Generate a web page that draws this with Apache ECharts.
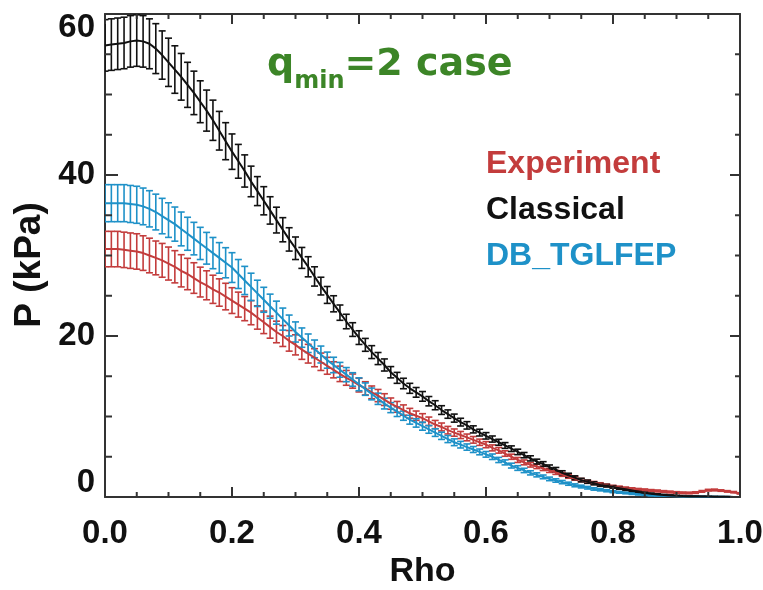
<!DOCTYPE html>
<html>
<head>
<meta charset="utf-8">
<script src="https://cdn.jsdelivr.net/npm/echarts@6/dist/echarts.min.js"></script>
<style>
html,body{margin:0;padding:0;background:#fff;}
#chart{width:763px;height:590px;}
</style>
</head>
<body>
<div id="chart"></div>
<script>
// ---------------- data ----------------
const rho = [
 0.00,0.01,0.02,0.03,0.04,0.05,0.06,0.07,0.08,0.09,
 0.10,0.11,0.12,0.13,0.14,0.15,0.16,0.17,0.18,0.19,
 0.20,0.21,0.22,0.23,0.24,0.25,0.26,0.27,0.28,0.29,
 0.30,0.31,0.32,0.33,0.34,0.35,0.36,0.37,0.38,0.39,
 0.40,0.41,0.42,0.43,0.44,0.45,0.46,0.47,0.48,0.49,
 0.50,0.51,0.52,0.53,0.54,0.55,0.56,0.57,0.58,0.59,
 0.60,0.61,0.62,0.63,0.64,0.65,0.66,0.67,0.68,0.69,
 0.70,0.71,0.72,0.73,0.74,0.75,0.76,0.77,0.78,0.79,
 0.80,0.81,0.82,0.83,0.84,0.85,0.86,0.87,0.88,0.89,
 0.90,0.91,0.92,0.93,0.94,0.95,0.96,0.97,0.98,0.99,1.00
];

const experiment = [
 30.8,30.8,30.8,30.7,30.6,30.5,30.3,30.0,29.7,29.4,
 29.0,28.6,28.1,27.7,27.2,26.7,26.3,25.8,25.4,24.9,
 24.4,23.9,23.4,22.9,22.3,21.7,21.1,20.5,20.0,19.4,
 18.9,18.3,17.8,17.3,16.8,16.3,15.8,15.3,14.8,14.4,
 13.9,13.5,13.0,12.6,12.1,11.6,11.2,10.8,10.4,10.1,
 9.8,9.4,9.0,8.7,8.3,8.0,7.7,7.4,7.1,6.8,
 6.5,6.1,5.8,5.4,5.0,4.6,4.3,4.0,3.8,3.55,
 3.3,3.05,2.8,2.55,2.3,2.1,1.9,1.75,1.6,1.45,
 1.3,1.2,1.1,1.0,0.93,0.87,0.8,0.75,0.68,0.62,
 0.56,0.52,0.5,0.55,0.7,0.85,0.88,0.8,0.7,0.6,0.45
];
const experimentErr = [
 2.2,2.2,2.2,2.2,2.2,2.2,2.15,2.15,2.1,2.1,
 2.05,2.0,2.0,1.95,1.9,1.85,1.8,1.75,1.7,1.65,
 1.6,1.55,1.5,1.5,1.45,1.4,1.37,1.34,1.3,1.28,
 1.25,1.2,1.16,1.12,1.08,1.05,1.0,0.96,0.92,0.88,
 0.85,0.82,0.79,0.76,0.73,0.7,0.67,0.64,0.61,0.58,
 0.55,0.53,0.51,0.49,0.47,0.45,0.44,0.42,0.41,0.39,
 0.38,0.37,0.35,0.34,0.32,0.31,0.3,0.28,0.27,0.26,
 0.25,0.24,0.23,0.22,0.21,0.2,0.19,0.18,0.17,0.16,
 0.15,0.15,0.14,0.14,0.13,0.13,0.12,0.12,0.11,0.11,
 0.1,0.1,0.1,0.1,0.1,0.1,0.1,0.09,0.09,0.08,0.08
];

const classical = [
 56.1,56.2,56.3,56.4,56.6,56.7,56.6,56.3,55.7,54.9,
 54.0,53.1,52.2,51.2,50.2,49.1,48.0,46.8,45.5,44.2,
 42.9,41.7,40.5,39.2,38.0,36.8,35.6,34.4,33.2,32.0,
 30.9,29.7,28.6,27.4,26.2,25.1,24.0,22.9,21.8,20.8,
 19.8,18.9,18.0,17.2,16.4,15.5,14.8,14.1,13.5,13.0,
 12.5,11.9,11.4,10.8,10.3,9.8,9.3,8.9,8.4,8.0,
 7.6,7.2,6.8,6.4,6.0,5.6,5.2,4.8,4.4,4.1,
 3.7,3.4,3.0,2.7,2.4,2.1,1.9,1.7,1.5,1.4,
 1.25,1.1,0.95,0.8,0.65,0.5,0.4,0.32,0.25,0.2,
 0.15,0.12,0.1,0.08,0.06,0.05,0.04,0.03,0.02,0.01,0.0
];
const classicalErr = [
 3.2,3.2,3.2,3.2,3.2,3.2,3.2,3.1,3.1,3.0,
 3.0,2.95,2.9,2.8,2.7,2.6,2.55,2.5,2.4,2.3,
 2.2,2.1,2.0,1.9,1.8,1.75,1.7,1.6,1.5,1.45,
 1.4,1.3,1.25,1.2,1.1,1.05,1.0,0.95,0.9,0.85,
 0.85,0.8,0.8,0.75,0.75,0.7,0.68,0.65,0.62,0.6,
 0.6,0.58,0.56,0.54,0.52,0.5,0.48,0.46,0.44,0.42,
 0.4,0.38,0.37,0.36,0.35,0.34,0.33,0.32,0.3,0.29,
 0.28,0.27,0.26,0.25,0.23,0.22,0.2,0.19,0.17,0.16,
 0.15,0.14,0.13,0.12,0.11,0.1,0.09,0.08,0.07,0.06,
 0.06,0.05,0.05,0.04,0.04,0.03,0.03,0.02,0.02,0.01,0.0
];

const dbTglfep = [
 36.5,36.5,36.5,36.5,36.4,36.3,36.1,35.8,35.4,34.9,
 34.4,33.9,33.3,32.7,32.1,31.5,30.9,30.3,29.7,29.1,
 28.5,27.7,26.9,26.1,25.3,24.5,23.7,22.9,22.1,21.3,
 20.5,19.8,19.1,18.4,17.7,17.0,16.4,15.8,15.2,14.6,
 14.0,13.4,12.8,12.2,11.6,11.1,10.6,10.1,9.6,9.2,
 8.8,8.4,8.0,7.6,7.2,6.8,6.5,6.2,5.9,5.6,
 5.3,5.0,4.6,4.3,3.9,3.6,3.3,3.0,2.75,2.5,
 2.25,2.05,1.85,1.65,1.45,1.3,1.15,1.0,0.9,0.78,
 0.66,0.58,0.5,0.42,0.34,0.28,0.22,0.18,0.14,0.11,
 0.09,0.07,0.06,0.05,0.04,0.03,0.03,0.02,0.02,0.01,0.0
];
const dbTglfepErr = [
 2.3,2.3,2.3,2.3,2.3,2.3,2.28,2.25,2.22,2.2,
 2.15,2.12,2.1,2.05,2.02,2.0,1.97,1.94,1.9,1.87,
 1.85,1.8,1.75,1.7,1.63,1.55,1.5,1.43,1.37,1.3,
 1.25,1.2,1.15,1.1,1.05,1.0,0.96,0.92,0.88,0.84,
 0.8,0.77,0.73,0.7,0.66,0.62,0.6,0.57,0.55,0.52,
 0.5,0.48,0.47,0.45,0.44,0.42,0.41,0.39,0.37,0.36,
 0.35,0.34,0.32,0.31,0.3,0.29,0.27,0.26,0.25,0.23,
 0.22,0.21,0.2,0.19,0.18,0.17,0.16,0.15,0.14,0.13,
 0.12,0.11,0.1,0.1,0.09,0.08,0.08,0.07,0.06,0.06,
 0.05,0.05,0.04,0.04,0.03,0.03,0.02,0.02,0.01,0.01,0.0
];

// axis ticks
const xMajorTicks = [0, 0.2, 0.4, 0.6, 0.8, 1.0];
const xMinorTicks = [0.05, 0.1, 0.15, 0.25, 0.3, 0.35, 0.45, 0.5, 0.55, 0.65, 0.7, 0.75, 0.85, 0.9, 0.95];
const yMajorTicks = [0, 20, 40, 60];
const yMinorTicks = [5, 10, 15, 25, 30, 35, 45, 50, 55];

const seriesNames = ['Experiment', 'Classical', 'DB_TGLFEP'];
const annotationText = ['q', 'min', '=2 case'];
const xAxisName = 'Rho';
const yAxisName = 'P (kPa)';

// ---------------- styles ----------------
const X_MIN = 0, X_MAX = 1, Y_MIN = 0, Y_MAX = 60;
const COLORS = { 'Experiment': '#c33c3c', 'Classical': '#111111', 'DB_TGLFEP': '#1e91c8' };
const GREEN = '#3c8527';
const AXIS_COLOR = '#333333';
const BOLD = "'Liberation Sans', Arial, sans-serif";

const chart = echarts.init(document.getElementById('chart'), null, { renderer: 'canvas' });

function errorBarSeries(name, vals, errs) {
  const color = COLORS[name];
  return {
    name: name + ' err',
    type: 'custom',
    xAxisIndex: 0, yAxisIndex: 0,
    data: rho.map((r, i) => [r, vals[i], errs[i]]),
    encode: { x: 0, y: 1 },
    clip: true,
    z: 3,
    renderItem: function (params, api) {
      const x = api.value(0), y = api.value(1), e = api.value(2);
      const top = api.coord([x, y + e]);
      const bot = api.coord([x, y - e]);
      const hw = 3.5;
      const st = { stroke: color, lineWidth: 1.6 };
      return {
        type: 'group',
        children: [
          { type: 'line', shape: { x1: top[0], y1: top[1], x2: bot[0], y2: bot[1] }, style: st },
          { type: 'line', shape: { x1: top[0] - hw, y1: top[1], x2: top[0] + hw, y2: top[1] }, style: st },
          { type: 'line', shape: { x1: bot[0] - hw, y1: bot[1], x2: bot[0] + hw, y2: bot[1] }, style: st }
        ]
      };
    }
  };
}

function lineSeries(name, vals) {
  return {
    name: name,
    type: 'line',
    xAxisIndex: 0, yAxisIndex: 0,
    data: rho.map((r, i) => [r, vals[i]]),
    showSymbol: false,
    symbol: 'none',
    lineStyle: { color: COLORS[name], width: 2 },
    z: 4
  };
}

// inward ticks on all four sides, placed through the axis scales
const tickData = [].concat(
  xMajorTicks.map(v => [v, 1, 0]),
  xMinorTicks.map(v => [v, 0, 0]),
  yMajorTicks.map(v => [v, 1, 1]),
  yMinorTicks.map(v => [v, 0, 1])
);
const tickSeries = {
  name: 'ticks',
  type: 'custom',
  xAxisIndex: 0, yAxisIndex: 0,
  data: tickData,
  dimensions: ['v', 'major', 'dir'],
  encode: { x: 0 },
  clip: false,
  silent: true,
  z: 10,
  renderItem: function (params, api) {
    const v = api.value(0), major = api.value(1) === 1, dir = api.value(2);
    let segs;
    if (dir === 0) {
      const b = api.coord([v, Y_MIN]);
      const t = api.coord([v, Y_MAX]);
      const L = major ? 10 : 5;
      segs = [[b[0], b[1], b[0], b[1] - L], [t[0], t[1], t[0], t[1] + L]];
    } else {
      const l = api.coord([X_MIN, v]);
      const r = api.coord([X_MAX, v]);
      segs = [[l[0], l[1], l[0] + (major ? 13 : 7), l[1]], [r[0], r[1], r[0] - (major ? 10 : 5), r[1]]];
    }
    return {
      type: 'group',
      children: segs.map(s => ({
        type: 'line',
        shape: { x1: s[0], y1: s[1], x2: s[2], y2: s[3] },
        style: { stroke: AXIS_COLOR, lineWidth: 2 }
      }))
    };
  }
};

function makeAxis(pos, withLabels) {
  const horiz = (pos === 'top' || pos === 'bottom');
  const a = {
    type: 'value', position: pos,
    min: horiz ? X_MIN : Y_MIN, max: horiz ? X_MAX : Y_MAX, interval: horiz ? 0.2 : 20,
    axisLine: { show: true, onZero: false, lineStyle: { color: AXIS_COLOR, width: 2 } },
    axisTick: { show: false },
    minorTick: { show: false },
    splitLine: { show: false },
    axisLabel: { show: withLabels, fontFamily: BOLD, fontWeight: 'bold', fontSize: 33, color: '#111',
                 margin: horiz ? 20 : 10 }
  };
  if (withLabels && horiz) {
    a.axisLabel.formatter = function (v) { return v.toFixed(1); };
  } else if (withLabels) {
    a.axisLabel.lineHeight = 28;
    a.axisLabel.verticalAlignMinLabel = 'bottom';
    a.axisLabel.verticalAlignMaxLabel = 'top';
  }
  return a;
}

const xBottom = makeAxis('bottom', true);
xBottom.name = xAxisName;
xBottom.nameLocation = 'middle';
xBottom.nameGap = 58;
xBottom.nameTextStyle = { fontFamily: BOLD, fontWeight: 'bold', fontSize: 34, color: '#111' };

const option = {
  animation: false,
  backgroundColor: '#ffffff',
  grid: { left: 105, right: 23, top: 14, bottom: 93, containLabel: false, outerBoundsMode: 'none' },
  xAxis: [xBottom, makeAxis('top', false)],
  yAxis: [makeAxis('left', true), makeAxis('right', false)],
  series: [
    errorBarSeries('Experiment', experiment, experimentErr),
    lineSeries('Experiment', experiment),
    errorBarSeries('DB_TGLFEP', dbTglfep, dbTglfepErr),
    lineSeries('DB_TGLFEP', dbTglfep),
    errorBarSeries('Classical', classical, classicalErr),
    lineSeries('Classical', classical),
    tickSeries
  ],
  graphic: [
    {
      type: 'text', x: 30, y: 265, rotation: Math.PI / 2, z: 10,
      style: { text: yAxisName, fontFamily: BOLD, fontWeight: 'bold', fontSize: 37, fill: '#111',
               align: 'center', verticalAlign: 'middle' }
    },
    {
      type: 'text', left: 267, top: 46, z: 10,
      style: {
        text: '{q|' + annotationText[0] + '}{s|' + annotationText[1] + '}{q|' + annotationText[2] + '}',
        rich: {
          q: { fontFamily: "'DejaVu Sans', sans-serif", fontWeight: 'bold', fontSize: 38, fill: GREEN, verticalAlign: 'bottom', lineHeight: 40 },
          s: { fontFamily: "'DejaVu Sans', sans-serif", fontWeight: 'bold', fontSize: 24, fill: GREEN, verticalAlign: 'bottom', lineHeight: 40, padding: [0, 0, -10, 0] }
        }
      }
    },
    { type: 'text', left: 486, top: 148, z: 10,
      style: { text: seriesNames[0], fontFamily: BOLD, fontWeight: 'bold', fontSize: 32, fill: COLORS['Experiment'] } },
    { type: 'text', left: 486, top: 194, z: 10,
      style: { text: seriesNames[1], fontFamily: BOLD, fontWeight: 'bold', fontSize: 32, fill: COLORS['Classical'] } },
    { type: 'text', left: 486, top: 240, z: 10,
      style: { text: seriesNames[2], fontFamily: BOLD, fontWeight: 'bold', fontSize: 32, fill: COLORS['DB_TGLFEP'] } }
  ]
};

chart.setOption(option);
</script>
</body>
</html>
